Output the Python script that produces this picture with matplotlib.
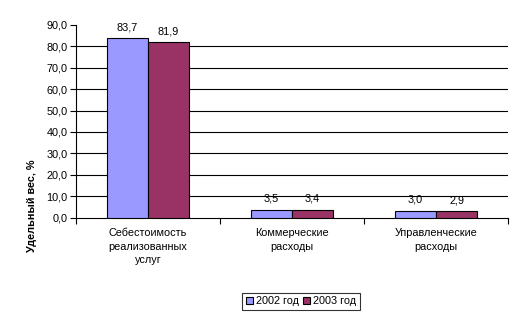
import matplotlib
matplotlib.use("Agg")
import matplotlib.pyplot as plt
import numpy as np

categories = ["Себестоимость\nреализованных\nуслуг", "Коммерческие\nрасходы", "Управленческие\nрасходы"]
series_names = ["2002 год", "2003 год"]
values_2002 = [83.7, 3.5, 3.0]
values_2003 = [81.9, 3.4, 2.9]
yticks = [0, 10, 20, 30, 40, 50, 60, 70, 80, 90]

plt.rcParams['font.family'] = ['Liberation Sans', 'DejaVu Sans']
FS = 7.8

fig = plt.figure(figsize=(5.24, 3.21), dpi=100)
ax = fig.add_axes([76/524, 1 - 217.5/321, (508-76)/524, (217.5-25)/321])

x = np.arange(len(categories))
w = 0.285
colors = ["#9999FF", "#993366"]
for i, (vals, name) in enumerate(zip([values_2002, values_2003], series_names)):
    pos = x + (i - 0.5) * w
    ax.bar(pos, vals, width=w, color=colors[i], edgecolor="black", linewidth=0.8, label=name, zorder=3)
    for p, v in zip(pos, vals):
        ax.annotate(f"{v:.1f}".replace(".", ","), (p, v), xytext=(0, 4.5), textcoords="offset points",
                    ha="center", va="bottom", fontsize=FS)

ax.set_xlim(-0.5, len(categories) - 0.5)
ax.set_ylim(0, 90)
ax.set_yticks(yticks)
ax.set_yticklabels([f"{t:.1f}".replace(".", ",") for t in yticks], fontsize=FS)
for t in yticks[1:-1]:
    ax.axhline(t, color="black", linewidth=0.8, zorder=1)

ax.set_xticks(np.arange(-0.5, len(categories), 1.0))
ax.set_xticklabels([])
ax.tick_params(axis="x", direction="out", length=4, width=0.8)
ax.tick_params(axis="y", direction="out", length=4, width=0.8, pad=2)
for c, lab in zip(x, categories):
    ax.text(c, -0.055, lab, transform=ax.get_xaxis_transform(), ha="center", va="top",
            fontsize=FS, linespacing=1.45)

for s in ["top", "right"]:
    ax.spines[s].set_visible(False)
for s in ["left", "bottom"]:
    ax.spines[s].set_linewidth(0.8)

fig.text(32/524, 1 - 206/321, "Удельный вес, %", rotation=90, ha="center", va="center",
         fontsize=FS, fontweight="bold")

leg = fig.legend(loc="center", bbox_to_anchor=(301/524, 1 - 301.5/321), ncol=2, fontsize=FS,
                 frameon=True, fancybox=False, edgecolor="black", handlelength=0.6, handleheight=0.6,
                 handletextpad=0.3, columnspacing=0.4, borderpad=0.35, borderaxespad=0)
leg.get_frame().set_linewidth(0.8)

fig.savefig("out.png", dpi=100)
